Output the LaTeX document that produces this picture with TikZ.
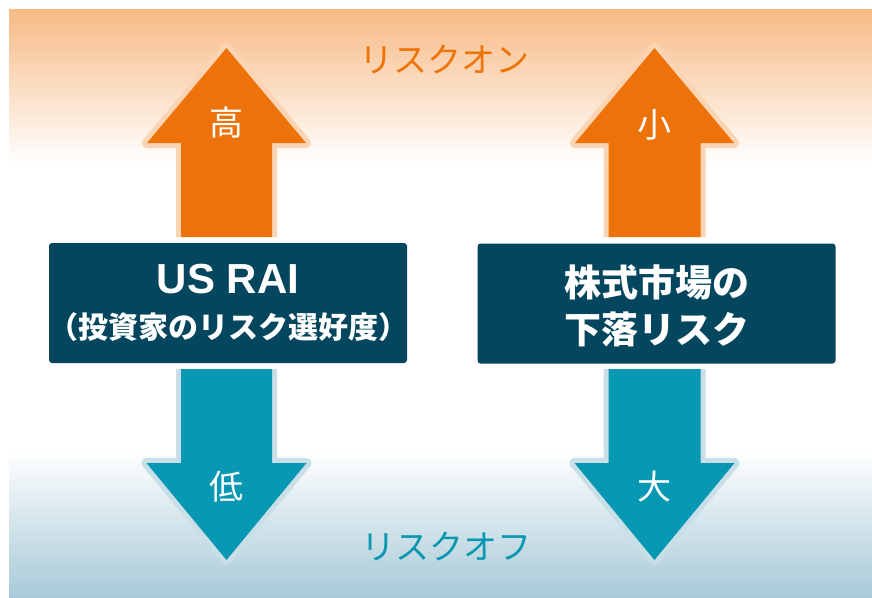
\documentclass[tikz,border=0pt]{standalone}
\usepackage{fontspec}
\setmainfont{Noto Sans CJK JP}
\newfontfamily\latinfont{Liberation Sans}
\usetikzlibrary{calc}
\definecolor{orangefill}{HTML}{EC7209}
\definecolor{orangeline}{HTML}{FBD5B3}
\definecolor{tealfill}{HTML}{0898B3}
\definecolor{tealline}{HTML}{C8DFE8}
\definecolor{boxcol}{HTML}{03465E}
\definecolor{topgrad}{HTML}{F7BA85}
\definecolor{botgrad}{HTML}{A8CAD8}
\definecolor{ontext}{HTML}{EE7408}
\definecolor{offtext}{HTML}{0A97B1}
\tikzset{
  box/.style={fill=boxcol, rounded corners=3pt, minimum width=358pt, minimum height=120pt, inner sep=0pt},
  boxtext/.style={text=white, font=\bfseries, inner sep=0pt},
  arrlabel/.style={text=white, font=\fontsize{34}{34}\selectfont, inner sep=0pt},
  risktext/.style={font=\fontsize{34}{34}\selectfont, inner sep=0pt},
  outlineup/.style={draw=orangeline, line width=10pt, line join=round},
  outlinedown/.style={draw=tealline, line width=10pt, line join=round},
}
\begin{document}
\begin{tikzpicture}[x=1pt,y=-1pt]
\useasboundingbox (0,0) rectangle (872,597);
\fill[white] (0,0) rectangle (872,597);
% background gradients
\shade[top color=topgrad, bottom color=white] (9,9) rectangle (872,163);
\shade[top color=white, bottom color=botgrad] (9,450) rectangle (872,597);

% arrows
\foreach \cx/\sh in {226.5/45.5, 654.5/46} {
  \draw[outlineup] (\cx-\sh,237) -- (\cx-\sh,143) -- (\cx-79.5,143) -- (\cx,48) -- (\cx+79.5,143) -- (\cx+\sh,143) -- (\cx+\sh,237);
  \fill[orangefill] (\cx-\sh,237) -- (\cx-\sh,143) -- (\cx-79.5,143) -- (\cx,48) -- (\cx+79.5,143) -- (\cx+\sh,143) -- (\cx+\sh,237) -- cycle;
  \draw[outlinedown] (\cx-\sh,369) -- (\cx-\sh,463) -- (\cx-80,463) -- (\cx,560) -- (\cx+80,463) -- (\cx+\sh,463) -- (\cx+\sh,369);
  \fill[tealfill] (\cx-\sh,369) -- (\cx-\sh,463) -- (\cx-80,463) -- (\cx,560) -- (\cx+80,463) -- (\cx+\sh,463) -- (\cx+\sh,369) -- cycle;
}

% boxes
\node[box] (rai) at (228,303) {};
\node[box] (drop) at (656.5,303.5) {};
\node[boxtext, font=\latinfont\bfseries\fontsize{42}{42}\selectfont] (rai1) at ($(rai.center)+(0,-24)$) {US RAI};
\node[boxtext, font=\bfseries\fontsize{30}{30}\selectfont] (rai2) at ($(rai.center)+(0,24)$) {（投資家のリスク選好度）};
\node[boxtext, font=\bfseries\fontsize{37}{37}\selectfont] (drop1) at ($(drop.center)+(0,-21)$) {株式市場の};
\node[boxtext, font=\bfseries\fontsize{37}{37}\selectfont] (drop2) at ($(drop.center)+(0,26)$) {下落リスク};

% arrow labels
\node[arrlabel] (hi) at (226.5,123) {高};
\node[arrlabel] (lo) at (226.5,487) {低};
\node[arrlabel] (small) at (654.5,125) {小};
\node[arrlabel] (large) at (654.5,487) {大};

% risk texts
\node[risktext, text=ontext] (on) at (444,60) {リスクオン};
\node[risktext, text=offtext] (off) at (446,547) {リスクオフ};
\end{tikzpicture}
\end{document}
